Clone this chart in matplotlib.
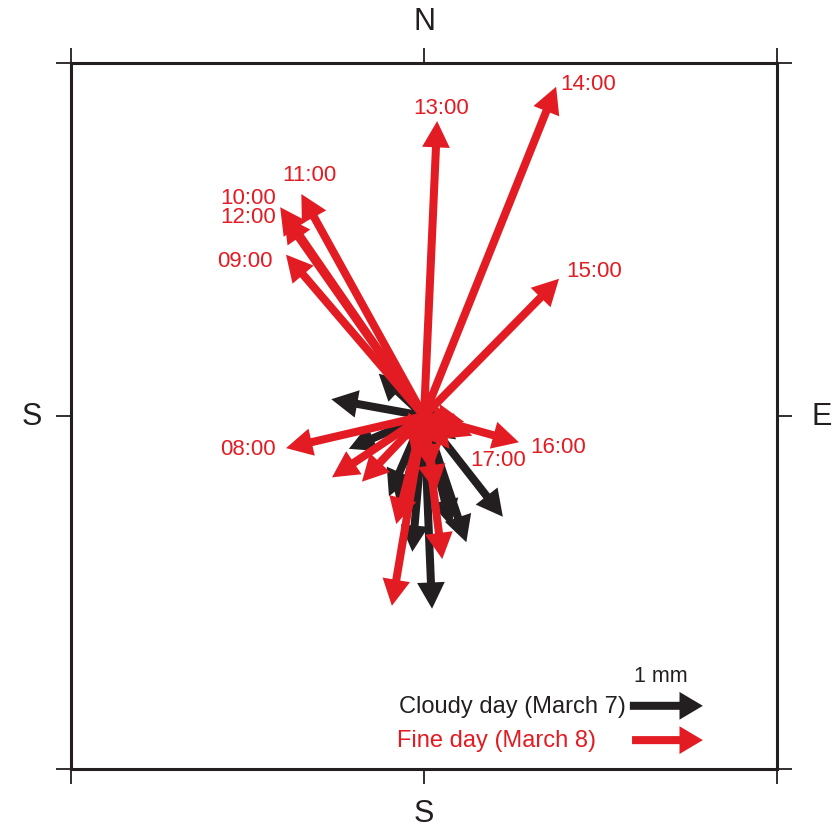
import numpy as np
import matplotlib.pyplot as plt

# vectors in mm (east, north) for each hourly sample
cloudy_e = [-1.27, -0.62, -1.03, 1.08, 0.11, -0.48, -0.16, 0.58, 0.37, 0.44, -0.34, 0.30]
cloudy_n = [0.23, 0.58, -0.45, -1.38, -2.64, -1.10, -1.86, -1.73, -1.51, -0.32, -1.30, -0.25]

fine_times = ['08:00', '09:00', '10:00', '11:00', '12:00', '13:00', '14:00', '15:00', '16:00', '17:00']
fine_e = [-1.89, -1.89, -1.97, -1.68, -1.92, 0.18, 1.81, 1.85, 1.30, 0.66]
fine_n = [-0.44, 2.21, 2.86, 3.04, 2.74, 4.04, 4.51, 1.88, -0.36, -0.27]
# unlabeled fine-day hours
fine_other_e = [-1.26, -0.85, -0.44, 0.25, -0.38, 0.16, 0.30, -0.30, 0.45, 0.35, -0.15, 0.55, 0.10]
fine_other_n = [-0.84, -0.90, -2.60, -1.96, -1.48, -1.03, -0.40, -0.35, -0.15, -0.45, -0.55, -0.08, -0.75]

RED = '#e31b23'
BLK = '#231f20'
px = 73.0  # pixels per mm
L = 353 / px

fig = plt.figure(figsize=(8.39, 8.29), dpi=100)
ax = fig.add_axes([71 / 839, 1 - 770 / 829, 706 / 839, 706 / 829])
ax.set_xlim(-L, L)
ax.set_ylim(-L, L)

def vec(x, y, dx, dy, c, w=0.11, hw=0.38, hl=0.36):
    ax.arrow(x, y, dx, dy, width=w, head_width=hw, head_length=hl,
             length_includes_head=True, color=c, lw=0)

for e, n in zip(cloudy_e, cloudy_n):
    vec(0, 0, e, n, BLK)
for e, n in zip(fine_other_e, fine_other_n):
    vec(0, 0, e, n, RED)
for e, n in zip(fine_e, fine_n):
    vec(0, 0, e, n, RED)

# time labels (offsets in px from arrow tip, y down)
offs = {'08:00': (-38, 0), '09:00': (-41, 6), '10:00': (-32, -10), '11:00': (8, -20),
        '12:00': (-36, 1), '13:00': (4, -14), '14:00': (32, -3), '15:00': (35, -8),
        '16:00': (39, 4), '17:00': (26, 24)}
for t, e, n in zip(fine_times, fine_e, fine_n):
    ox, oy = offs[t]
    ax.text(e + ox / px, n - oy / px, t, color=RED, fontsize=16,
            ha='center', va='center', family='Liberation Sans')

# scale / legend
ax.text(3.25, -3.56, '1 mm', color=BLK, fontsize=15.5, ha='center', va='center', family='Liberation Sans')
vec(2.82, -3.97, 1.0, 0, BLK, w=0.11, hw=0.38, hl=0.32)
vec(2.85, -4.44, 0.97, 0, RED, w=0.11, hw=0.38, hl=0.32)
ax.text(2.76, -3.97, 'Cloudy day (March 7)', color=BLK, fontsize=17, ha='right', va='center', family='Liberation Sans')
ax.text(2.36, -4.44, 'Fine day (March 8)', color=RED, fontsize=17, ha='right', va='center', family='Liberation Sans')

# frame
for s in ax.spines.values():
    s.set_linewidth(2.2)
    s.set_color(BLK)
ax.set_xticks([-L, 0, L])
ax.set_yticks([-L, 0, L])
ax.tick_params(direction='out', length=11, width=1.3, color=BLK,
               top=True, right=True, labelbottom=False, labelleft=False)

ax.text(0.5, 1.06, 'N', transform=ax.transAxes, ha='center', va='center', fontsize=22, color=BLK, family='Liberation Sans')
ax.text(0.5, -0.063, 'S', transform=ax.transAxes, ha='center', va='center', fontsize=22, color=BLK, family='Liberation Sans')
ax.text(-0.055, 0.5, 'S', transform=ax.transAxes, ha='center', va='center', fontsize=22, color=BLK, family='Liberation Sans')
ax.text(1.064, 0.5, 'E', transform=ax.transAxes, ha='center', va='center', fontsize=22, color=BLK, family='Liberation Sans')

fig.savefig('out.png', dpi=100)
